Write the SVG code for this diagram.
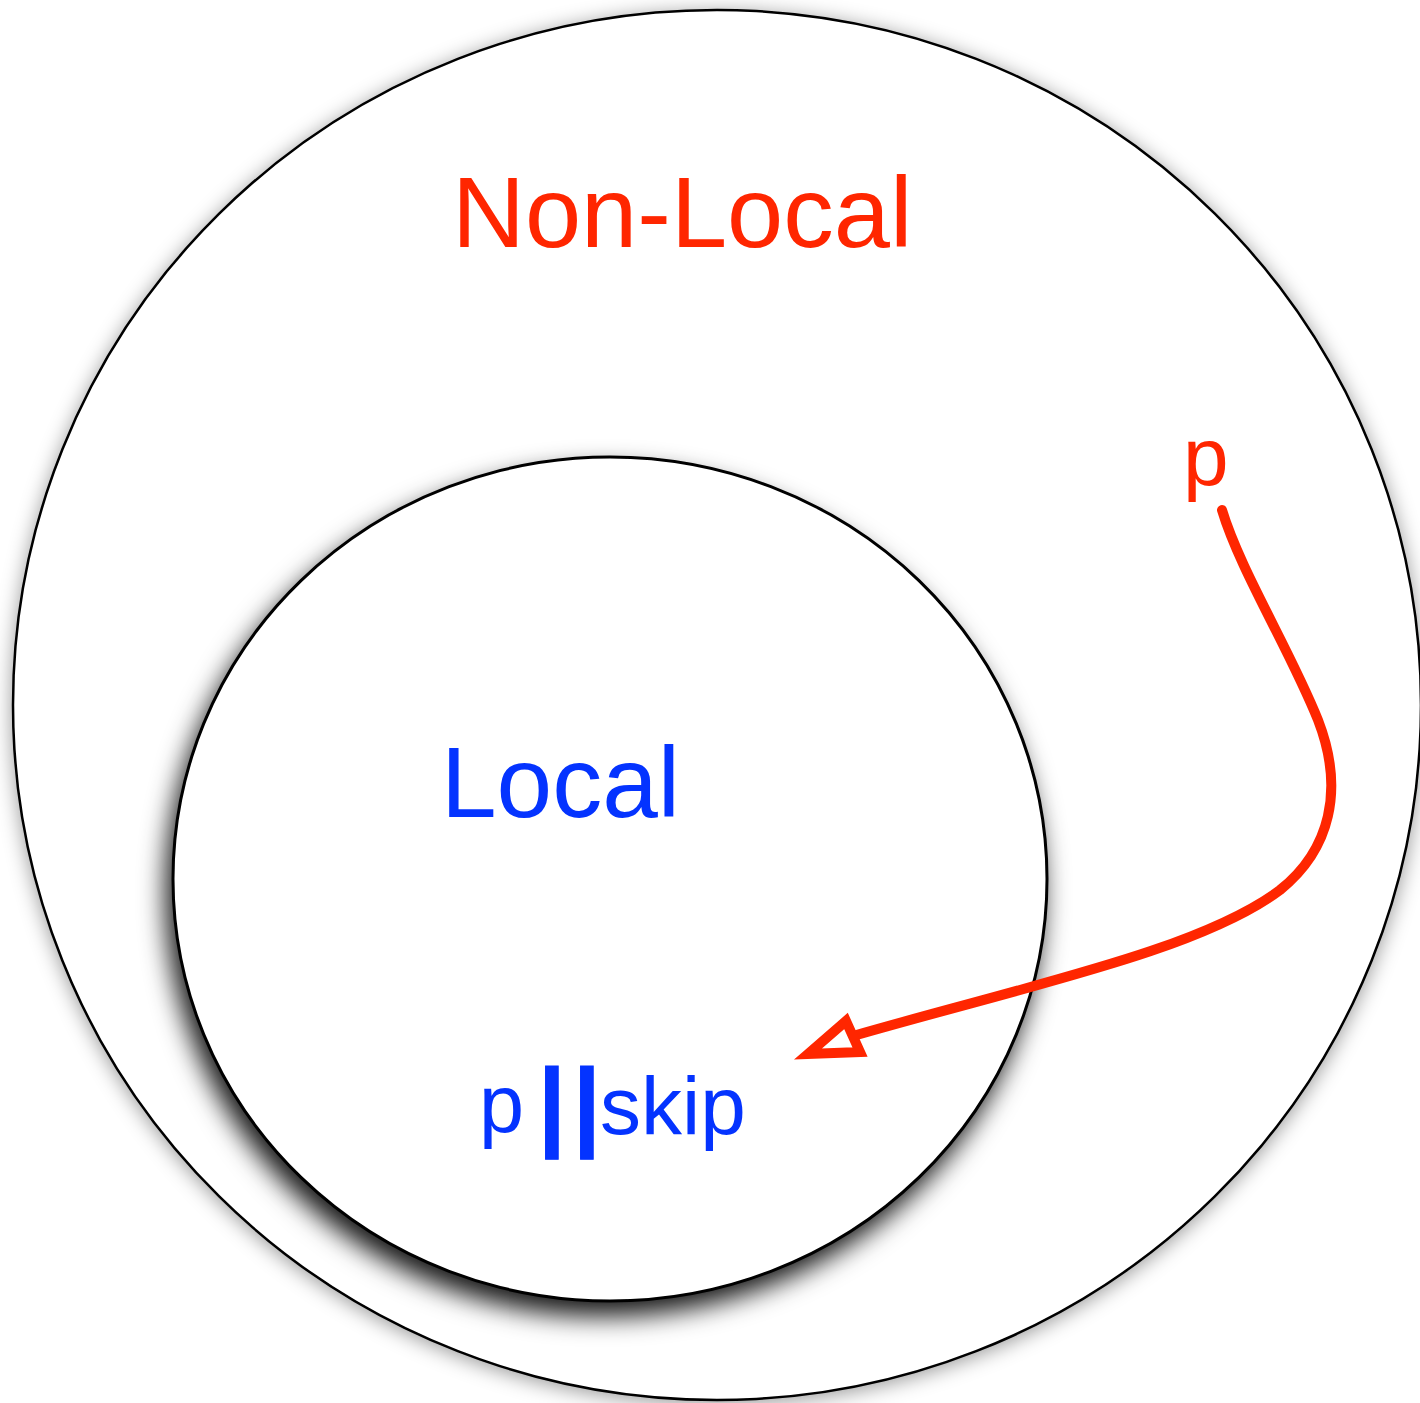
<svg xmlns="http://www.w3.org/2000/svg" width="1420" height="1403" viewBox="0 0 1420 1403">
<style>
.red{fill:#ff2600;font-family:"Liberation Sans",Arial,sans-serif}
.blue{fill:#0433ff;font-family:"Liberation Sans",Arial,sans-serif}
.bar{font-weight:bold;stroke:#0433ff;stroke-width:1}
</style>
<defs>
<filter id="soft" x="-10%" y="-10%" width="120%" height="120%">
<feDropShadow dx="0" dy="3" stdDeviation="10" flood-color="#000" flood-opacity="0.4"/>
</filter>
<filter id="dark" x="-15%" y="-15%" width="130%" height="130%">
<feDropShadow dx="-6" dy="14" stdDeviation="13" flood-color="#000" flood-opacity="0.9"/>
</filter>
</defs>
<rect width="1420" height="1403" fill="#fff"/>
<g id="nonlocal">
<ellipse cx="717" cy="705" rx="704" ry="695" fill="#fff" stroke="#000" stroke-width="2.5" filter="url(#soft)"/>
<text class="red" x="452" y="247" font-size="101">Non-Local</text>
<text class="red" x="1183" y="485" font-size="82">p</text>
</g>
<g id="local">
<ellipse cx="610" cy="879" rx="437" ry="422" fill="#fff" stroke="#000" stroke-width="3" filter="url(#dark)"/>
<text class="blue" x="441" y="817" font-size="100">Local</text>
<text class="blue" x="479" y="1132" font-size="81">p</text>
<text class="blue bar" x="538" y="1137" font-size="99">|</text>
<text class="blue bar" x="573" y="1137" font-size="99">|</text>
<text class="blue" x="600" y="1134" font-size="82">skip</text>
</g>
<g id="connectors">
<path d="M1222,510 C1240,570 1290,650 1318,720 C1345,790 1330,850 1280,890 C1200,950 1030,985 853,1036" fill="none" stroke="#ff2600" stroke-width="10" stroke-linecap="round"/>
<polygon points="808,1054 846,1021 860,1052" fill="#fff" stroke="#ff2600" stroke-width="10" stroke-linejoin="miter"/>
</g>
</svg>
